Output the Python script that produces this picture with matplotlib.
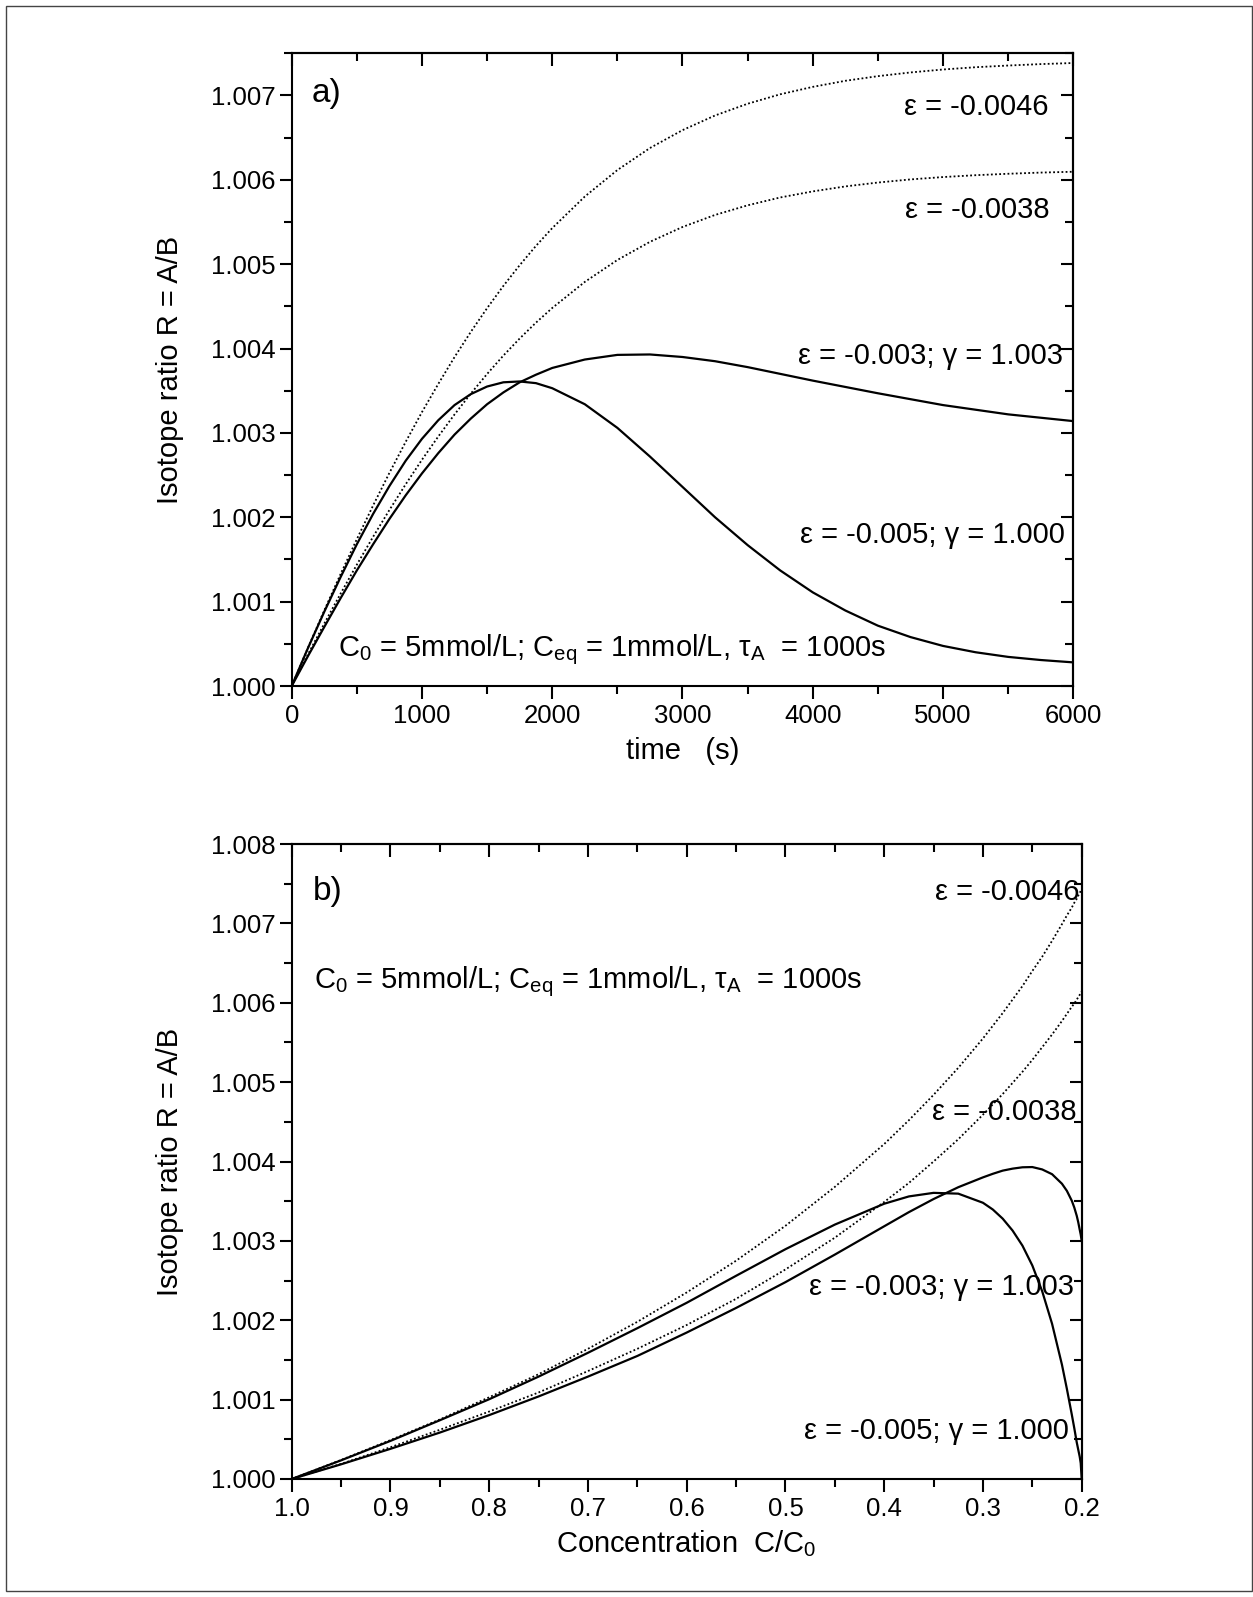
import numpy as np
import matplotlib
matplotlib.use("Agg")
import matplotlib.pyplot as plt
from matplotlib.ticker import MultipleLocator, FormatStrFormatter
from matplotlib.patches import Rectangle

plt.rcParams['font.family'] = ['Liberation Sans', 'DejaVu Sans']
plt.rcParams['mathtext.fontset'] = 'custom'
plt.rcParams['mathtext.rm'] = 'Liberation Sans'
plt.rcParams['mathtext.it'] = 'Liberation Sans:italic'

# ---------------- data: panel a (time, s) ; R values as (R - 1) * 1e5 ----------------
time_s = [0, 125, 250, 375, 500, 625, 750, 875, 1000, 1125, 1250, 1375, 1500, 1625,
          1750, 1875, 2000, 2250, 2500, 2750, 3000, 3250, 3500, 3750, 4000, 4250,
          4500, 4750, 5000, 5250, 5500, 5750, 6000]
a_eps_0046 = [0, 45.4, 89.6, 132.6, 174, 214, 252.6, 289.4, 324.7, 358, 389.9, 419.8,
              447.9, 474.3, 498.8, 521.7, 542.8, 580.2, 611.6, 637.7, 658.9, 676.3,
              690.2, 701.4, 710.2, 717.4, 722.9, 727.3, 730.8, 733.5, 735.5, 737.2,
              738.5]
a_eps_0038 = [0, 37.5, 74.0, 109.4, 143.8, 176.9, 208.6, 239.1, 268.2, 295.7, 321.9,
              346.6, 369.9, 391.7, 411.9, 430.7, 448.1, 479.0, 505.0, 526.5, 544.1,
              558.4, 569.8, 579.1, 586.3, 592.2, 596.8, 600.5, 603.3, 605.5, 607.2,
              608.6, 609.6]
a_eps_005_g1000 = [0, 45, 88, 129, 168, 204, 237, 267, 293, 315, 333, 346, 355, 360,
                   361, 359, 353, 334, 306, 272, 236, 200, 167, 137, 111, 89.5, 71.5,
                   58, 47.5, 40, 34.5, 30.8, 28]
a_eps_003_g1003 = [0, 35.5, 70, 104, 137, 168, 198, 226, 252, 276, 298, 317, 334, 348,
                   360, 369, 377, 387, 392.5, 393, 390, 385, 378, 370, 362, 354.5, 347,
                   340, 333, 327.5, 322, 318, 314]

# ---------------- data: panel b (C/C0) ; R values as (R - 1) * 1e5 ----------------
conc = [1.0, 0.95, 0.9, 0.85, 0.8, 0.75, 0.7, 0.65, 0.6, 0.55, 0.5, 0.45, 0.4, 0.375,
        0.35, 0.325, 0.3, 0.29, 0.28, 0.27, 0.26, 0.25, 0.24, 0.23, 0.22, 0.215, 0.21,
        0.2075, 0.205, 0.2035, 0.202, 0.201, 0.2]
b_eps_0046 = [0, 24, 49, 75, 103, 132, 164, 198, 235, 275, 319, 368, 422, 452, 484, 518,
              555, 571, 587, 604, 621, 640, 658, 678, 699, 710, 720, 726, 731, 735, 738,
              741, 743]
b_eps_0038 = [0, 19, 40, 62, 85, 109, 136, 164, 194, 227, 264, 304, 349, 373, 400, 428,
              459, 472, 485, 499, 513, 528, 544, 560, 577, 586, 595, 599, 604, 607, 610,
              612, 614]
b_eps_005_g1000 = [0, 23.5, 48, 74, 100.5, 129, 159, 190, 222, 256, 289.5, 320.5, 346.8,
                   356, 360.5, 359.5, 348, 339.5, 328, 313, 294, 269, 236.5, 195.5, 144,
                   113.5, 81, 64, 46, 37, 28, 20, 0]
b_eps_003_g1003 = [0, 18.5, 38, 58.5, 80.5, 104, 129, 155, 184.5, 215.5, 248, 282.7,
                   318.4, 336.2, 352.7, 367.6, 380, 384.5, 388.5, 391, 392.7, 393, 390,
                   384, 372, 363, 350.5, 342, 331.5, 323.5, 314, 308, 300]

lab_0046 = "ε = -0.0046"
lab_0038 = "ε = -0.0038"
lab_003 = "ε = -0.003; γ = 1.003"
lab_005 = "ε = -0.005; γ = 1.000"
cond_text = r"C$_\mathrm{0}$ = 5mmol/L; C$_\mathrm{eq}$ = 1mmol/L, τ$_\mathrm{A}$  = 1000s"


def ratio(vals):
    return 1.0 + np.asarray(vals, dtype=float) * 1e-5


W, H = 1253, 1597
fig = plt.figure(figsize=(W / 100, H / 100), dpi=100)
fig.patch.set_facecolor('white')


def frac_box(l, r, t, b):
    return [l / W, 1 - b / H, (r - l) / W, (b - t) / H]


ax_a = fig.add_axes(frac_box(291.7, 1073.3, 53.3, 686.0))
ax_b = fig.add_axes(frac_box(291.7, 1081.7, 844.0, 1479.0))

DOT = (0, (1.0, 1.3))
SOLID_LW = 1.6
DOT_LW = 1.3
TICK_FS = 18.5
LAB_FS = 21
ANN_FS = 21


def style(ax, xmaj, xmin, ymaj, ymin, xfmt, yfmt):
    for s in ax.spines.values():
        s.set_linewidth(1.5)
    ax.xaxis.set_major_locator(MultipleLocator(xmaj))
    ax.xaxis.set_minor_locator(MultipleLocator(xmin))
    ax.yaxis.set_major_locator(MultipleLocator(ymaj))
    ax.yaxis.set_minor_locator(MultipleLocator(ymin))
    ax.xaxis.set_major_formatter(FormatStrFormatter(xfmt))
    ax.yaxis.set_major_formatter(FormatStrFormatter(yfmt))
    ax.tick_params(which='major', direction='out', length=9, width=1.5,
                   labelsize=TICK_FS)
    ax.tick_params(axis='y', which='major', pad=2.5)
    ax.tick_params(axis='x', which='major', pad=4)
    ax.tick_params(which='minor', direction='out', length=5.5, width=1.5)
    sx = ax.secondary_xaxis('top')
    sx.xaxis.set_major_locator(MultipleLocator(xmaj))
    sx.xaxis.set_minor_locator(MultipleLocator(xmin))
    sx.tick_params(which='major', direction='in', length=9, width=1.5, labeltop=False)
    sx.tick_params(which='minor', direction='in', length=5.5, width=1.5)
    sx.spines['top'].set_linewidth(1.5)
    sy = ax.secondary_yaxis('right')
    sy.yaxis.set_major_locator(MultipleLocator(ymaj))
    sy.yaxis.set_minor_locator(MultipleLocator(ymin))
    sy.tick_params(which='major', direction='in', length=9, width=1.5, labelright=False)
    sy.tick_params(which='minor', direction='in', length=5.5, width=1.5)
    sy.spines['right'].set_linewidth(1.5)


# ---------------- panel a ----------------
ax = ax_a
ax.plot(time_s, ratio(a_eps_0046), color='black', lw=DOT_LW, ls=DOT)
ax.plot(time_s, ratio(a_eps_0038), color='black', lw=DOT_LW, ls=DOT)
ax.plot(time_s, ratio(a_eps_005_g1000), color='black', lw=SOLID_LW)
ax.plot(time_s, ratio(a_eps_003_g1003), color='black', lw=SOLID_LW)
ax.set_xlim(0, 6000)
ax.set_ylim(1.0, 1.0075)
style(ax, 1000, 500, 0.001, 0.0005, '%d', '%.3f')
ax.set_xlabel("time   (s)", fontsize=LAB_FS)
ax.set_ylabel("Isotope ratio R = A/B", fontsize=LAB_FS)
ax.text(150, 1.00702, "a)", fontsize=24, ha='left', va='center')
ax.text(5810, 1.00677, lab_0046, fontsize=ANN_FS, ha='right', va='baseline')
ax.text(5815, 1.00555, lab_0038, fontsize=ANN_FS, ha='right', va='baseline')
ax.text(5920, 1.00382, lab_003, fontsize=ANN_FS, ha='right', va='baseline')
ax.text(5935, 1.00170, lab_005, fontsize=ANN_FS, ha='right', va='baseline')
ax.text(356, 1.00035, cond_text, fontsize=ANN_FS, ha='left', va='baseline')

# ---------------- panel b ----------------
ax = ax_b
ax.plot(conc, ratio(b_eps_0046), color='black', lw=DOT_LW, ls=DOT)
ax.plot(conc, ratio(b_eps_0038), color='black', lw=DOT_LW, ls=DOT)
ax.plot(conc, ratio(b_eps_005_g1000), color='black', lw=SOLID_LW)
ax.plot(conc, ratio(b_eps_003_g1003), color='black', lw=SOLID_LW)
ax.set_xlim(1.0, 0.2)
ax.set_ylim(1.0, 1.008)
style(ax, 0.1, 0.05, 0.001, 0.0005, '%.1f', '%.3f')
ax.set_xlabel(r"Concentration  C/C$_\mathrm{0}$", fontsize=LAB_FS)
ax.set_ylabel("Isotope ratio R = A/B", fontsize=LAB_FS)
ax.text(0.979, 1.0074, "b)", fontsize=24, ha='left', va='center')
ax.text(0.977, 1.006185, cond_text, fontsize=ANN_FS, ha='left', va='baseline')
ax.text(0.2026, 1.00729, lab_0046, fontsize=ANN_FS, ha='right', va='baseline')
ax.text(0.2056, 1.00452, lab_0038, fontsize=ANN_FS, ha='right', va='baseline')
ax.text(0.2076, 1.00232, lab_003, fontsize=ANN_FS, ha='right', va='baseline')
ax.text(0.2129, 1.00050, lab_005, fontsize=ANN_FS, ha='right', va='baseline')

# label placement
for a_, w_, h_ in ((ax_a, 781.6, 632.7), (ax_b, 790.0, 635.0)):
    a_.yaxis.set_label_coords((170 - 291.7) / w_, 0.5)
    a_.yaxis.label.set_va('center')
    a_.xaxis.set_label_coords(0.5, -65 / h_)
    a_.xaxis.label.set_va('center')

# outer frame
fig.add_artist(Rectangle((5.7 / W, 1 - 1591 / H), (1251.7 - 5.7) / W, (1591 - 5.7) / H,
                         transform=fig.transFigure, fill=False, lw=1.0, ec='#444444'))

fig.savefig("out.png", dpi=100, facecolor='white')
